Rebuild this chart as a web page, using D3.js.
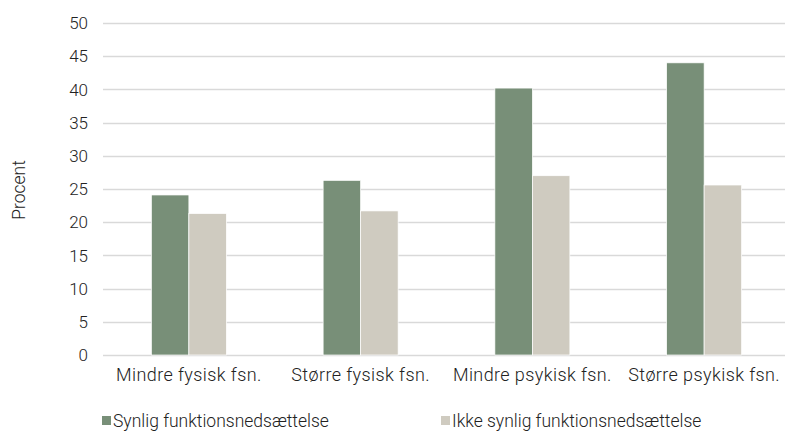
<!DOCTYPE html>
<html>
<head>
<meta charset="utf-8">
<script src="https://cdn.jsdelivr.net/npm/d3@7"></script>
<style>
  body { margin: 0; background: #fff; }
  svg { font-family: Roboto, "Noto Sans", sans-serif; font-weight: 300; }
</style>
</head>
<body>
<svg></svg>
<script>
var width  = 785,
    height = 432;

var categories = ["Mindre fysisk fsn.", "Større fysisk fsn.", "Mindre psykisk fsn.", "Større psykisk fsn."];
var seriesNames = ["Synlig funktionsnedsættelse", "Ikke synlig funktionsnedsættelse"];
var synlig     = [24.1, 26.3, 40.2, 44.0];
var ikkeSynlig = [21.3, 21.7, 27.0, 25.6];
var yTicks = [0, 5, 10, 15, 20, 25, 30, 35, 40, 45, 50];

var colors = ["#788f78", "#cfcbc0"];

var margin = {left: 103, right: -5, top: 23, bottom: 77};

var svg = d3.select("svg")
  .attr("width", width)
  .attr("height", height);

var x = d3.scaleBand()
  .domain(categories)
  .range([margin.left, width - margin.right])
  .paddingInner(0)
  .paddingOuter(0);

var x1 = d3.scaleBand()
  .domain([0, 1])
  .range([0, x.bandwidth()])
  .paddingInner(0)
  .paddingOuter(1.29);

var y = d3.scaleLinear()
  .domain([0, 50])
  .range([height - margin.bottom, margin.top]);

// gridlines
svg.append("g")
  .selectAll("line")
  .data(yTicks)
  .enter()
    .append("line")
    .attr("x1", margin.left)
    .attr("x2", width)
    .attr("y1", function(d){ return Math.round(y(d)) + 0.5; })
    .attr("y2", function(d){ return Math.round(y(d)) + 0.5; })
    .attr("stroke", "#d9d9d9")
    .attr("stroke-width", 1.3);

// y tick labels
svg.append("g")
  .selectAll("text")
  .data(yTicks)
  .enter()
    .append("text")
    .attr("x", 88)
    .attr("y", function(d){ return y(d); })
    .attr("dy", "0.36em")
    .attr("text-anchor", "end")
    .attr("font-size", 17)
    .attr("fill", "#222")
    .text(function(d){ return d; });

// bars
var series = [synlig, ikkeSynlig];
var groups = svg.append("g")
  .selectAll("g")
  .data(categories)
  .enter()
    .append("g")
    .attr("transform", function(d){ return "translate(" + x(d) + ",0)"; });

groups.selectAll("rect")
  .data(function(d, i){ return series.map(function(s, j){ return {s: j, v: s[i]}; }); })
  .enter()
    .append("rect")
    .attr("x", function(d){ return x1(d.s); })
    .attr("width", x1.bandwidth())
    .attr("y", function(d){ return y(d.v); })
    .attr("height", function(d){ return y(0) - y(d.v); })
    .attr("fill", function(d){ return colors[d.s]; })
    .attr("stroke", "#fff")
    .attr("stroke-width", 0.7);

// category labels
svg.append("g")
  .selectAll("text")
  .data(categories)
  .enter()
    .append("text")
    .attr("x", function(d){ return x(d) + x.bandwidth() / 2; })
    .attr("y", 381)
    .attr("text-anchor", "middle")
    .attr("font-size", 18)
    .attr("letter-spacing", 0.4)
    .attr("fill", "#222")
    .text(function(d){ return d; });

// y axis title
svg.append("text")
  .attr("transform", "translate(25,190) rotate(-90)")
  .attr("text-anchor", "middle")
  .attr("font-size", 17.5)
  .attr("fill", "#222")
  .text("Procent");

// legend
var legendX = [102, 441];
var legend = svg.append("g")
  .selectAll("g")
  .data(seriesNames)
  .enter()
    .append("g")
    .attr("transform", function(d, i){ return "translate(" + legendX[i] + ",0)"; });

legend.append("rect")
  .attr("x", 0)
  .attr("y", 416)
  .attr("width", 9)
  .attr("height", 9)
  .attr("fill", function(d, i){ return colors[i]; });

legend.append("text")
  .attr("x", 11)
  .attr("y", 427)
  .attr("font-size", 17.5)
  .attr("fill", "#222")
  .text(function(d){ return d; });
</script>
</body>
</html>
